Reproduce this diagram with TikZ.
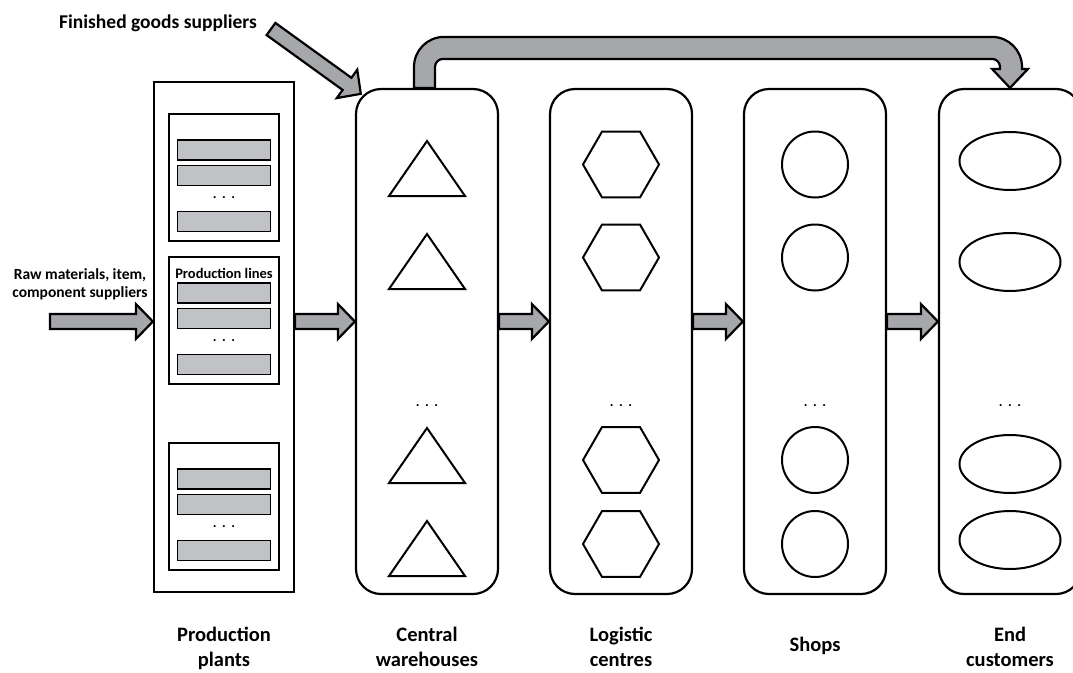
\documentclass[tikz,border=0pt]{standalone}
\usepackage{fontspec}
\setmainfont{Carlito}
\usepackage{tikz}
\usetikzlibrary{positioning, shapes.geometric, calc}

\definecolor{arrowgray}{RGB}{166,167,171}
\definecolor{bargray}{RGB}{193,194,197}

% three spaced dots for "and so on"
\newcommand{\moredots}{.\hspace{5.5pt}.\hspace{5.5pt}.}

\begin{document}
\begin{tikzpicture}[
    x=1pt, y=-1pt,
    stage/.style={draw, rounded corners=25pt, line width=2.2pt,
        minimum width=142pt, minimum height=505pt, inner sep=0pt},
    plantbox/.style={draw, line width=2.2pt, minimum width=140pt, minimum height=510pt},
    linebox/.style={draw, line width=2pt, minimum width=110pt, minimum height=127pt},
    linebar/.style={draw, line width=1.4pt, fill=bargray, minimum width=93pt, minimum height=20pt},
    whtri/.style={draw, line width=2pt},
    lchex/.style={draw, regular polygon, regular polygon sides=6, minimum size=76pt,
        line width=2pt, inner sep=0pt},
    shopcirc/.style={draw, circle, minimum size=66pt, line width=2pt, inner sep=0pt},
    custoval/.style={draw, ellipse, minimum width=101pt, minimum height=58pt,
        line width=2pt, inner sep=0pt},
    caption/.style={font=\fontsize{20.5}{25}\selectfont\bfseries, align=center},
    note/.style={font=\fontsize{15.5}{18}\selectfont\bfseries, align=center},
    dotsnode/.style={font=\fontsize{14}{14}\selectfont\bfseries, inner sep=0pt},
    flowarrow/.style={draw, line width=2.2pt, fill=arrowgray, line join=miter,
        to path={let \p1=(\tikztostart), \p2=(\tikztotarget),
            \n1={atan2(\y2-\y1,\x2-\x1)}, \n2={veclen(\x2-\x1,\y2-\y1)} in
            {[shift={(\x1,\y1)}, rotate=\n1]
            (0pt,-7.5pt) -- (\n2-17pt,-7.5pt) -- (\n2-17pt,-17.5pt) -- (\n2,0pt)
            -- (\n2-17pt,17.5pt) -- (\n2-17pt,7.5pt) -- (0pt,7.5pt) -- cycle}}}
]
\useasboundingbox (0,0) rectangle (1073,672);

% production plants with their lines
\node[plantbox] (plants) at (224,337) {};
\foreach \n/\y in {1/177.5, 2/320.5, 3/506.5} {
    \node[linebox] (pl\n) at (224,\y) {};
    \node[linebar] (pl\n a) at (224,\y-27.5) {};
    \node[linebar] (pl\n b) at (224,\y-2) {};
    \node[dotsnode] (pl\n d) at (224,\y+20) {\moredots};
    \node[linebar] (pl\n c) at (224,\y+44) {};
}
\node[font=\fontsize{14.5}{16}\selectfont\bfseries] (plines) at (224,273) {Production lines};

% the four stages
\node[stage] (wh) at (427,341.5) {};
\node[stage] (lc) at (621,341.5) {};
\node[stage] (shop) at (815,341.5) {};
\node[stage] (cust) at (1010,341.5) {};

\foreach \t in {139,232,426,519}
    \draw[whtri] (427,\t+2) -- (465,\t+57) -- (389,\t+57) -- cycle;
\foreach \n/\y in {1/164.5, 2/257.5, 3/460, 4/544} {
    \node[lchex] (lc\n) at (621,\y) {};
    \node[shopcirc] (shop\n) at (815,\y) {};
}
\foreach \n/\y in {1/161, 2/262, 3/464, 4/540}
    \node[custoval] (cust\n) at (1010,\y) {};

\foreach \s in {wh, lc, shop, cust}
    \node[dotsnode] (\s dots) at (\s |- 0,406) {\moredots};

% main flow
\coordinate (rawtail) at (50,321.5);
\draw[flowarrow] (rawtail) to (plants.west |- rawtail);
\draw[flowarrow] (plants.east |- rawtail) to (wh.west |- rawtail);
\draw[flowarrow] (wh.east |- rawtail) to (lc.west |- rawtail);
\draw[flowarrow] (lc.east |- rawtail) to (shop.west |- rawtail);
\draw[flowarrow] (shop.east |- rawtail) to (cust.west |- rawtail);

% finished goods straight in
\coordinate (fgtail) at (271,29);
\coordinate (fgtip) at ([shift={(6pt,-6pt)}]wh.north west);
\draw[flowarrow] (fgtail) to (fgtip);

% bypass from the warehouses to the customers
\draw[line width=2.2pt, fill=arrowgray, line join=miter]
    let \p1=(wh.north), \p2=(cust.north) in
    (\x1-13pt,\y1) -- (\x1-13pt,\y1+21pt) arc[start angle=180, end angle=90, radius=30pt]
    -- (\x2-18pt,\y1+51pt) arc[start angle=90, end angle=0, radius=30pt]
    -- (\x2+12pt,\y1+19pt) -- (\x2+18pt,\y1+19pt) -- (\x2,\y2) -- (\x2-18pt,\y1+19pt)
    -- (\x2-10pt,\y1+19pt) -- (\x2-10pt,\y1+21pt) arc[start angle=0, end angle=90, radius=8pt]
    -- (\x1+16pt,\y1+29pt) arc[start angle=90, end angle=180, radius=8pt]
    -- (\x1+8pt,\y1) -- cycle;

% texts
\node[font=\fontsize{19.5}{22}\selectfont\bfseries] (fgs) at (158,23) {Finished goods suppliers};
\node[note] (raw) at (80,284) {Raw materials, item,\\component suppliers};

\node[caption] (cap1) at (224,648) {Production\\plants};
\node[caption] (cap2) at (427,647) {Central\\warehouses};
\node[caption] (cap3) at (621,647) {Logistic\\centres};
\node[caption] (cap4) at (815,646) {Shops};
\node[caption] (cap5) at (1010,647) {End\\customers};

\end{tikzpicture}
\end{document}
